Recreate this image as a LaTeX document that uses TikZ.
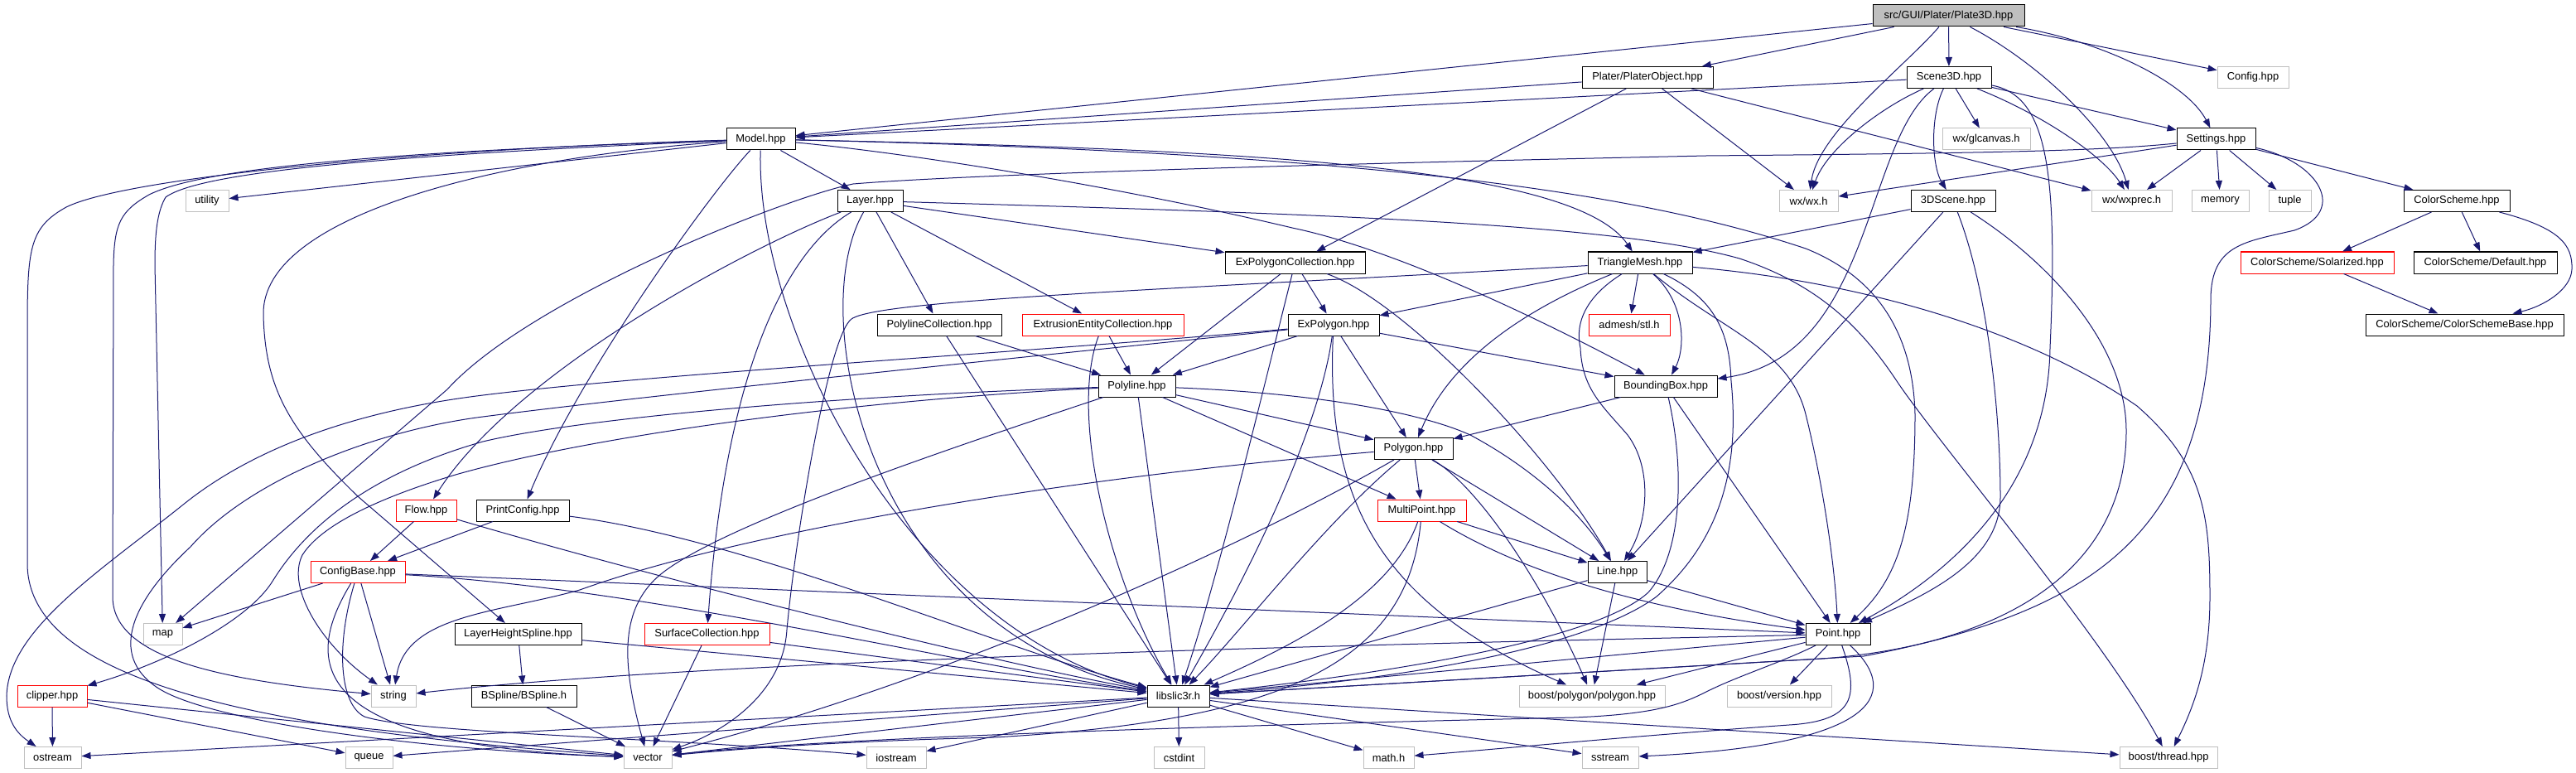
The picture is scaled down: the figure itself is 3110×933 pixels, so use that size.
\documentclass[tikz,border=0pt]{standalone}
\usepackage{fontspec}
\newfontfamily\dxfam{Liberation Sans}
\usetikzlibrary{arrows.meta}
\definecolor{edgec}{HTML}{191970}
\definecolor{gb}{HTML}{BFBFBF}
\newcommand\dxfnt{\dxfam\fontsize{12.9pt}{15pt}\selectfont}
\tikzset{
 nd/.style={draw=black, line width=1pt, fill=white, minimum height=26pt, inner sep=0pt, font=\dxfnt},
 ext/.style={nd, draw=gb},
 trunc/.style={nd, draw=red},
 rootnd/.style={nd, fill=gb},
 e/.style={draw=edgec, line width=1pt, -{Triangle[length=11pt,width=8pt]}},
}
\begin{document}
\begin{tikzpicture}[x=1pt,y=-1pt]
\useasboundingbox (0,0) rectangle (3110,933);
\fill[white] (0,0) rectangle (3110,933);
% ---------------- nodes
\node[rootnd, minimum width=183pt] (root) at (2352.5,19) {src/GUI/Plater/Plate3D.hpp};
\node[nd, minimum width=158pt] (plobj) at (1989,93.5) {Plater/PlaterObject.hpp};
\node[nd, minimum width=102pt] (scene) at (2353,93.5) {Scene3D.hpp};
\node[ext, minimum width=86pt] (config) at (2720,93.5) {Config.hpp};
\node[nd, minimum width=83pt] (model) at (918.5,168) {Model.hpp};
\node[ext, minimum width=106pt] (glcanvas) at (2398,168) {wx/glcanvas.h};
\node[nd, minimum width=95pt] (settings) at (2675.5,168) {Settings.hpp};
\node[ext, minimum width=52pt] (utility) at (250,242.5) {utility};
\node[nd, minimum width=79pt] (layer) at (1050.5,242.5) {Layer.hpp};
\node[ext, minimum width=71pt] (wxwx) at (2183.5,242.5) {wx/wx.h};
\node[nd, minimum width=102pt] (scenethree) at (2358,242.5) {3DScene.hpp};
\node[ext, minimum width=97pt] (wxprec) at (2573.5,242.5) {wx/wxprec.h};
\node[ext, minimum width=69pt] (memory) at (2680.5,242.5) {memory};
\node[ext, minimum width=51pt] (tuple) at (2764.5,242.5) {tuple};
\node[nd, minimum width=128pt] (colorscheme) at (2966,242.5) {ColorScheme.hpp};
\node[nd, minimum width=169pt] (expcoll) at (1563.5,317) {ExPolygonCollection.hpp};
\node[nd, minimum width=126pt] (trimesh) at (1980,317) {TriangleMesh.hpp};
\node[trunc, minimum width=185pt] (solar) at (2797.5,317) {ColorScheme/Solarized.hpp};
\node[nd, minimum width=173pt] (csdefault) at (3000.5,317) {ColorScheme/Default.hpp};
\node[nd, minimum width=150pt] (plcoll) at (1134,392) {PolylineCollection.hpp};
\node[trunc, minimum width=195pt] (eec) at (1331.5,392) {ExtrusionEntityCollection.hpp};
\node[nd, minimum width=110pt] (expoly) at (1610,392) {ExPolygon.hpp};
\node[trunc, minimum width=98pt] (admesh) at (1967,392) {admesh/stl.h};
\node[nd, minimum width=239pt] (csbase) at (2975.5,392) {ColorScheme/ColorSchemeBase.hpp};
\node[nd, minimum width=93pt] (polyline) at (1372.5,466) {Polyline.hpp};
\node[nd, minimum width=124pt] (bbox) at (2011,466) {BoundingBox.hpp};
\node[nd, minimum width=95pt] (polygon) at (1706.5,541.5) {Polygon.hpp};
\node[trunc, minimum width=73pt] (flow) at (514.5,616) {Flow.hpp};
\node[nd, minimum width=112pt] (printconfig) at (631,616) {PrintConfig.hpp};
\node[trunc, minimum width=107pt] (multipoint) at (1716.5,616) {MultiPoint.hpp};
\node[trunc, minimum width=114pt] (configbase) at (432,690.5) {ConfigBase.hpp};
\node[nd, minimum width=71pt] (nline) at (1952.5,690.5) {Line.hpp};
\node[ext, minimum width=47pt] (nmap) at (196.5,765.5) {map};
\node[nd, minimum width=153pt] (lhs) at (625.5,765.5) {LayerHeightSpline.hpp};
\node[trunc, minimum width=151pt] (surfcoll) at (853.5,765.5) {SurfaceCollection.hpp};
\node[nd, minimum width=78pt] (point) at (2219,765.5) {Point.hpp};
\node[trunc, minimum width=84pt] (clipper) at (63,840) {clipper.hpp};
\node[ext, minimum width=54pt] (strg) at (475,840) {string};
\node[nd, minimum width=127pt] (bspline) at (632.5,840) {BSpline/BSpline.h};
\node[nd, minimum width=75pt] (lib) at (1422.5,840) {libslic3r.h};
\node[ext, minimum width=176pt] (bpoly) at (1922,840) {boost/polygon/polygon.hpp};
\node[ext, minimum width=126pt] (bver) at (2148,840) {boost/version.hpp};
\node[ext, minimum width=69pt] (ostream) at (63.5,914.5) {ostream};
\node[ext, minimum width=57pt] (queue) at (445.5,914.5) {queue};
\node[ext, minimum width=58pt] (vect) at (782,914.5) {vector};
\node[ext, minimum width=72pt] (iostream) at (1082,914.5) {iostream};
\node[ext, minimum width=61pt] (cstdint) at (1423.5,914.5) {cstdint};
\node[ext, minimum width=61pt] (mathh) at (1676.5,914.5) {math.h};
\node[ext, minimum width=68pt] (sstream) at (1944,914.5) {sstream};
\node[ext, minimum width=118pt] (bthread) at (2618,914.5) {boost/thread.hpp};
% ---------------- edges
% Plate3D
\draw[e] (root) -- (model);
\draw[e] (root) -- (plobj);
\draw[e] (root) -- (scene);
\draw[e] (root) .. controls (2300,80) and (2195,160) .. (wxwx);
\draw[e] (root) .. controls (2460,75) and (2550,160) .. (wxprec);
\draw[e] (root) -- (config);
\draw[e] (root) .. controls (2540,50) and (2640,100) .. (settings);
% PlaterObject
\draw[e] (plobj) -- (model);
\draw[e] (plobj) -- (expcoll);
\draw[e] (plobj) -- (wxwx);
\draw[e] (plobj) -- (wxprec);
% Scene3D
\draw[e] (scene) -- (model);
\draw[e] (scene) .. controls (2270,130) and (2205,180) .. (wxwx);
\draw[e] (scene) .. controls (2250,170) and (2262,430) .. (bbox);
\draw[e] (scene) .. controls (2330,140) and (2332,200) .. (scenethree);
\draw[e] (scene) -- (glcanvas);
\draw[e] (scene) .. controls (2470,115) and (2485,200) .. (2475,420) .. controls (2472,600) and (2340,700) .. (point);
\draw[e] (scene) .. controls (2470,140) and (2540,190) .. (wxprec);
\draw[e] (scene) -- (settings);
% Settings
\draw[e] (settings) .. controls (2540,182) and (2400,185) .. (2060,188) .. controls (1500,200) and (1150,212) .. (1030,222) .. controls (950,238) and (640,360) .. (540,470) -- (nmap);
\draw[e] (settings) -- (wxwx);
\draw[e] (settings) -- (wxprec);
\draw[e] (settings) -- (memory);
\draw[e] (settings) -- (tuple);
\draw[e] (settings) -- (colorscheme);
\draw[e] (settings) .. controls (2800,195) and (2835,255) .. (2770,278) .. controls (2710,292) and (2670,295) .. (2669,360) .. controls (2669,650) and (2520,740) .. (2250,792) -- (lib);
% ColorScheme
\draw[e] (colorscheme) -- (solar);
\draw[e] (colorscheme) -- (csdefault);
\draw[e] (colorscheme) .. controls (3090,275) and (3106,295) .. (3105,325) .. controls (3104,350) and (3070,370) .. (csbase);
\draw[e] (solar) -- (csbase);
% Model
\draw[e] (model) .. controls (500,180) and (150,215) .. (80,250) .. controls (35,275) and (33,300) .. (33,400) -- (33,680) .. controls (33,820) and (300,880) .. (vect);
\draw[e] (model) .. controls (500,182) and (250,200) .. (180,235) .. controls (145,255) and (138,270) .. (137,320) -- (136,720) .. controls (136,790) and (250,820) .. (strg);
\draw[e] (model) .. controls (500,186) and (245,205) .. (200,238) .. controls (190,255) and (187,280) .. (187,320) -- (nmap);
\draw[e] (model) -- (utility);
\draw[e] (model) .. controls (600,190) and (315,260) .. (318,380) .. controls (320,470) and (350,520) .. (433,600) -- (lhs);
\draw[e] (model) .. controls (860,230) and (700,450) .. (printconfig);
\draw[e] (model) .. controls (912,400) and (1100,760) .. (lib);
\draw[e] (model) -- (layer);
\draw[e] (model) .. controls (1500,180) and (1900,200) .. (trimesh);
\draw[e] (model) .. controls (1100,185) and (1350,225) .. (1560,275) .. controls (1680,300) and (1850,380) .. (bbox);
\draw[e] (model) .. controls (1700,185) and (2000,240) .. (2180,300) .. controls (2280,340) and (2310,420) .. (2312,500) .. controls (2312,640) and (2290,700) .. (point);
% Layer
\draw[e] (layer) .. controls (900,300) and (620,450) .. (flow);
\draw[e] (layer) .. controls (970,290) and (880,400) .. (surfcoll);
\draw[e] (layer) .. controls (970,380) and (1050,760) .. (lib);
\draw[e] (layer) -- (plcoll);
\draw[e] (layer) -- (eec);
\draw[e] (layer) -- (expcoll);
\draw[e] (layer) .. controls (1600,258) and (1950,270) .. (2100,312) .. controls (2200,345) and (2250,400) .. (2290,460) .. controls (2340,535) and (2540,770) .. (bthread);
% ExPolygonCollection
\draw[e] (expcoll) -- (polyline);
\draw[e] (expcoll) .. controls (1530,450) and (1470,700) .. (lib);
\draw[e] (expcoll) -- (expoly);
\draw[e] (expcoll) .. controls (1700,365) and (1880,560) .. (nline);
% PolylineCollection, ExtrusionEntityCollection
\draw[e] (plcoll) -- (polyline);
\draw[e] (plcoll) -- (lib);
\draw[e] (eec) -- (polyline);
\draw[e] (eec) .. controls (1290,500) and (1340,700) .. (lib);
% ExPolygon
\draw[e] (expoly) .. controls (1250,425) and (800,450) .. (583,477) .. controls (420,497) and (300,545) .. (220,610) .. controls (120,690) and (10,760) .. (8,840) .. controls (8,870) and (20,885) .. (ostream);
\draw[e] (expoly) .. controls (1250,430) and (800,475) .. (583,503) .. controls (450,520) and (300,580) .. (230,660) .. controls (160,725) and (130,790) .. (190,830) .. controls (250,870) and (500,905) .. (vect);
\draw[e] (expoly) -- (polyline);
\draw[e] (expoly) -- (polygon);
\draw[e] (expoly) .. controls (1600,470) and (1560,600) .. (lib);
\draw[e] (expoly) .. controls (1600,610) and (1670,730) .. (bpoly);
\draw[e] (expoly) -- (bbox);
% Polyline
\draw[e] (polyline) .. controls (1000,485) and (700,530) .. (550,573) .. controls (470,597) and (390,630) .. (365,670) .. controls (345,710) and (390,780) .. (strg);
\draw[e] (polyline) .. controls (1000,478) and (700,505) .. (583,533) .. controls (470,565) and (380,620) .. (330,700) .. controls (300,750) and (200,800) .. (clipper);
\draw[e] (polyline) .. controls (1150,540) and (850,640) .. (790,700) .. controls (750,740) and (750,800) .. (vect);
\draw[e] (polyline) -- (polygon);
\draw[e] (polyline) -- (multipoint);
\draw[e] (polyline) -- (lib);
\draw[e] (polyline) .. controls (1600,475) and (1720,500) .. (1775,525) .. controls (1850,565) and (1910,620) .. (nline);
% Polygon
\draw[e] (polygon) .. controls (1300,575) and (900,640) .. (700,712) .. controls (600,740) and (490,742) .. (strg);
\draw[e] (polygon) .. controls (1500,660) and (1150,820) .. (vect);
\draw[e] (polygon) .. controls (1600,630) and (1500,760) .. (lib);
\draw[e] (polygon) -- (multipoint);
\draw[e] (polygon) -- (nline);
\draw[e] (polygon) .. controls (1790,590) and (1870,720) .. (bpoly);
% MultiPoint
\draw[e] (multipoint) -- (nline);
\draw[e] (multipoint) .. controls (1820,680) and (1950,730) .. (point);
\draw[e] (multipoint) .. controls (1680,720) and (1560,780) .. (lib);
\draw[e] (multipoint) .. controls (1700,800) and (1550,870) .. (1200,890) .. controls (1000,895) and (880,905) .. (vect);
% Line
\draw[e] (nline) -- (lib);
\draw[e] (nline) -- (bpoly);
\draw[e] (nline) -- (point);
% BoundingBox
\draw[e] (bbox) -- (polygon);
\draw[e] (bbox) .. controls (2035,570) and (2030,670) .. (1990,715) .. controls (1930,770) and (1700,810) .. (lib);
\draw[e] (bbox) -- (point);
% TriangleMesh
\draw[e] (trimesh) .. controls (1400,350) and (1060,362) .. (1028,385) .. controls (1000,405) and (960,650) .. (950,760) .. controls (945,840) and (870,885) .. (vect);
\draw[e] (trimesh) -- (expoly);
\draw[e] (trimesh) .. controls (1800,390) and (1740,460) .. (polygon);
\draw[e] (trimesh) -- (admesh);
\draw[e] (trimesh) .. controls (2035,365) and (2035,420) .. (bbox);
\draw[e] (trimesh) .. controls (1935,345) and (1898,375) .. (1908,420) .. controls (1910,470) and (1935,490) .. (1965,525) .. controls (1995,565) and (1990,630) .. (nline);
\draw[e] (trimesh) .. controls (2080,400) and (2160,420) .. (2180,500) .. controls (2200,580) and (2215,680) .. (point);
\draw[e] (trimesh) .. controls (2070,360) and (2088,400) .. (2090,460) .. controls (2100,560) and (2080,650) .. (2000,720) .. controls (1920,780) and (1700,820) .. (lib);
\draw[e] (trimesh) .. controls (2250,340) and (2450,400) .. (2580,490) .. controls (2660,560) and (2668,620) .. (2668,720) .. controls (2668,800) and (2650,850) .. (bthread);
% 3DScene
\draw[e] (scenethree) -- (trimesh);
\draw[e] (scenethree) -- (nline);
\draw[e] (scenethree) .. controls (2400,350) and (2415,500) .. (2415,600) .. controls (2415,680) and (2320,720) .. (point);
\draw[e] (scenethree) .. controls (2480,320) and (2567,420) .. (2567,520) .. controls (2567,700) and (2400,780) .. (2200,795) -- (lib);
% lower-left group
\draw[e] (lhs) -- (lib);
\draw[e] (lhs) -- (bspline);
\draw[e] (bspline) -- (vect);
\draw[e] (surfcoll) -- (vect);
\draw[e] (surfcoll) -- (lib);
\draw[e] (flow) -- (configbase);
\draw[e] (flow) .. controls (800,700) and (1200,800) .. (lib);
\draw[e] (printconfig) -- (configbase);
\draw[e] (printconfig) .. controls (900,650) and (1200,780) .. (lib);
\draw[e] (configbase) -- (nmap);
\draw[e] (configbase) .. controls (365,800) and (370,900) .. (vect);
\draw[e] (configbase) .. controls (405,780) and (410,850) .. (440,865) .. controls (500,885) and (800,890) .. (iostream);
\draw[e] (configbase) -- (strg);
\draw[e] (configbase) -- (point);
\draw[e] (configbase) .. controls (780,710) and (1150,800) .. (lib);
\draw[e] (clipper) -- (ostream);
\draw[e] (clipper) -- (queue);
\draw[e] (clipper) -- (vect);
% Point
\draw[e] (point) -- (lib);
\draw[e] (point) .. controls (2150,800) and (2100,815) .. (2060,835) .. controls (2030,850) and (2000,862) .. (1900,866) .. controls (1500,875) and (1000,890) .. (vect);
\draw[e] (point) .. controls (2245,840) and (2240,870) .. (2160,875) .. controls (1950,890) and (1800,905) .. (mathh);
\draw[e] (point) .. controls (2300,840) and (2260,900) .. (sstream);
\draw[e] (point) .. controls (1800,775) and (900,792) .. (strg);
\draw[e] (point) -- (bver);
\draw[e] (point) -- (bpoly);
% libslic3r
\draw[e] (lib) -- (ostream);
\draw[e] (lib) -- (queue);
\draw[e] (lib) -- (vect);
\draw[e] (lib) -- (iostream);
\draw[e] (lib) -- (cstdint);
\draw[e] (lib) -- (mathh);
\draw[e] (lib) -- (sstream);
\draw[e] (lib) -- (bthread);
\end{tikzpicture}
\end{document}
